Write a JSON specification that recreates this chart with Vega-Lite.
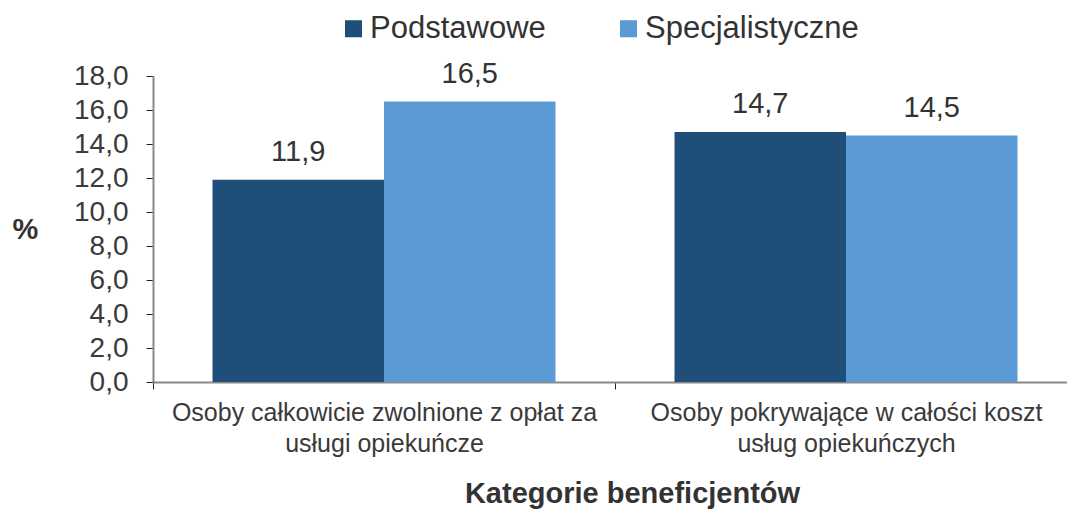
{
  "$schema": "https://vega.github.io/schema/vega-lite/v6.json",
  "width": 924,
  "height": 306,
  "autosize": "none",
  "padding": {"left": 153, "top": 76, "right": 0, "bottom": 129},
  "background": "white",
  "config": {
    "locale": {"number": {"decimal": ",", "thousands": " ", "grouping": [3], "currency": ["", " zł"]}},
    "font": "Liberation Sans",
    "view": {"stroke": null}
  },
  "data": {
    "values": [
      {"kategoria": "Osoby całkowicie zwolnione z opłat za|usługi opiekuńcze", "typ": "Podstawowe", "wartosc": 11.9},
      {"kategoria": "Osoby całkowicie zwolnione z opłat za|usługi opiekuńcze", "typ": "Specjalistyczne", "wartosc": 16.5},
      {"kategoria": "Osoby pokrywające w całości koszt|usług opiekuńczych", "typ": "Podstawowe", "wartosc": 14.7},
      {"kategoria": "Osoby pokrywające w całości koszt|usług opiekuńczych", "typ": "Specjalistyczne", "wartosc": 14.5}
    ]
  },
  "encoding": {
    "x": {
      "field": "kategoria", "type": "nominal", "sort": null,
      "scale": {"paddingInner": 0, "paddingOuter": 0},
      "axis": {
        "title": "Kategorie beneficjentów",
        "titleFont": "Liberation Sans", "titleFontSize": 29, "titleFontWeight": "bold", "titleColor": "#333333",
        "titleX": 479, "titleAlign": "center",
        "titleY": 111, "titleBaseline": "middle",
        "labelExpr": "split(datum.label, '|')",
        "labelAngle": 0, "labelFontSize": 25, "labelColor": "#3a3a3a", "labelLineHeight": 31,
        "labelPadding": 11, "labelBaseline": "top", "labelLimit": 0,
        "tickBand": "extent", "ticks": true, "tickSize": 7, "tickColor": "#222222",
        "domainColor": "#888888", "domainWidth": 2
      }
    },
    "xOffset": {"field": "typ", "type": "nominal", "scale": {"paddingInner": 0, "paddingOuter": 0.347}},
    "y": {
      "field": "wartosc", "type": "quantitative",
      "scale": {"domain": [0, 18], "nice": false},
      "axis": {
        "values": [0, 2, 4, 6, 8, 10, 12, 14, 16, 18],
        "format": ".1f",
        "grid": false,
        "title": "%", "titleAngle": 0, "titleFontSize": 29, "titleFontWeight": "bold", "titleColor": "#333333",
        "titleX": -128, "titleY": 153, "titleAlign": "center", "titleBaseline": "middle",
        "labelFontSize": 28, "labelColor": "#3a3a3a", "labelPadding": 18, "labelLimit": 0,
        "tickSize": 7, "tickColor": "#222222", "domainColor": "#888888", "domainWidth": 2
      }
    }
  },
  "layer": [
    {
      "mark": {"type": "bar"},
      "encoding": {
        "color": {
          "field": "typ", "type": "nominal",
          "scale": {"domain": ["Podstawowe", "Specjalistyczne"], "range": ["#1f4e79", "#5b9bd5"]},
          "legend": {
            "title": null, "orient": "none", "direction": "horizontal",
            "legendX": 185, "legendY": -63,
            "symbolType": "square", "symbolSize": 290, "symbolStrokeWidth": 0, "symbolOpacity": 1,
            "labelFontSize": 31, "labelColor": "#333333", "labelOffset": 1, "columnPadding": 67, "labelLimit": 0
          }
        }
      }
    },
    {
      "mark": {"type": "text", "dy": -28, "fontSize": 29, "color": "#333333"},
      "encoding": {
        "text": {"field": "wartosc", "type": "quantitative", "format": ".1f"}
      }
    }
  ]
}
